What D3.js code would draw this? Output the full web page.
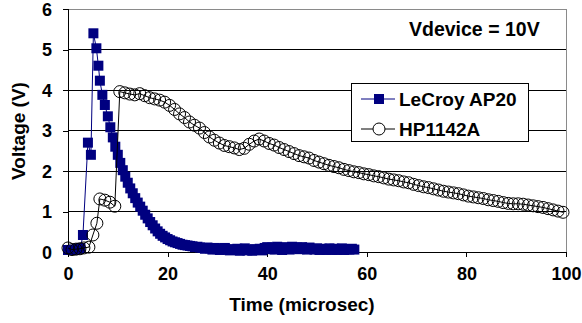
<!DOCTYPE html>
<html>
<head>
<meta charset="utf-8">
<script src="https://cdn.jsdelivr.net/npm/d3@7"></script>
<style>
  body { margin: 0; background: #fff; }
  text { font-family: "Liberation Sans", Arial, sans-serif; font-weight: bold; }
</style>
</head>
<body>
<div class="canvas"></div>
<script>
// LeCroy AP20 samples (microsec, volts)
const lecroyTime = [0, 0.5, 1, 1.5, 2, 2.5, 3, 4, 4.6, 5.1, 5.7, 6.1, 6.4, 6.9, 7.4, 8,
  8.5, 9, 9.5, 10, 10.5, 11, 11.5, 12, 12.5, 13, 13.5, 14, 14.5, 15, 15.5, 16, 16.5, 17, 17.5,
  18, 18.5, 19, 19.5, 20, 20.5, 21, 21.5, 22, 22.5, 23, 23.5, 24, 24.5, 25,
  25.5, 26, 26.5, 27, 27.5, 28, 28.5, 29, 29.5, 30, 30.5, 31, 31.5, 32, 32.5, 33, 33.5, 34, 34.5,
  35, 35.5, 36, 36.5, 37, 37.5, 38, 38.5, 39, 39.5, 40, 40.5, 41, 41.5, 42, 42.5, 43, 43.5, 44,
  44.5, 45, 45.5, 46, 46.5, 47, 47.5, 48, 48.5, 49, 49.5, 50, 50.5, 51, 51.5, 52, 52.5, 53, 53.5,
  54, 54.5, 55, 55.5, 56, 56.5, 57, 57.5];
const lecroyVolt = [0.05, 0.05, 0.05, 0.06, 0.08, 0.1, 0.42, 2.7, 2.4, 5.4, 5.03, 4.6, 4.23, 3.88, 3.63, 3.35,
  3.08, 2.83, 2.6, 2.4, 2.2, 2.02, 1.86, 1.71, 1.57, 1.45, 1.33, 1.22, 1.12, 1.02, 0.92, 0.83, 0.74, 0.66, 0.58,
  0.51, 0.45, 0.4, 0.36, 0.32, 0.29, 0.26, 0.24, 0.22, 0.2, 0.18, 0.17, 0.16, 0.15, 0.14,
  0.12, 0.13, 0.11, 0.1, 0.08, 0.11, 0.09, 0.06, 0.1, 0.07, 0.05, 0.08, 0.1, 0.06, 0.04, 0.07, 0.05, 0.08, 0.03,
  0.06, 0.09, 0.04, 0.06, 0.03, 0.07, 0.05, 0.08, 0.04, 0.1, 0.12, 0.07, 0.11, 0.06, 0.13, 0.08, 0.05, 0.12, 0.09,
  0.06, 0.13, 0.08, 0.11, 0.07, 0.12, 0.09, 0.06, 0.11, 0.08, 0.06, 0.09, 0.05, 0.08, 0.07, 0.05, 0.09, 0.06, 0.08,
  0.05, 0.07, 0.09, 0.05, 0.07, 0.06, 0.08, 0.06];

// HP1142A samples (microsec, volts)
const hpTime = [0, 0.8, 1.6, 2.4, 3.2, 4.2, 5, 5.8, 6.4, 7.4, 8.4, 9.4, 10.4,
  11.4, 12.4, 13.4, 14.4, 15.4, 16.4, 17.4, 18.4, 19.4, 20.4, 21.4, 22.4, 23.4, 24.4, 25.4, 26.4,
  27.4, 28.4, 29.4, 30.4, 31.4, 32.4, 33.4, 34.4, 35.4, 36.4, 37.4, 38.4, 39.4, 40.4, 41.4, 42.4,
  43.4, 44.4, 45.4, 46.4, 47.4, 48.4, 49.4, 50.4, 51.4, 52.4, 53.4, 54.4, 55.4, 56.4, 57.4, 58.4,
  59.4, 60.4, 61.4, 62.4, 63.4, 64.4, 65.4, 66.4, 67.4, 68.4, 69.4, 70.4, 71.4, 72.4, 73.4, 74.4,
  75.4, 76.4, 77.4, 78.4, 79.4, 80.4, 81.4, 82.4, 83.4, 84.4, 85.4, 86.4, 87.4, 88.4, 89.4, 90.4,
  91.4, 92.4, 93.4, 94.4, 95.4, 96.4, 97.4, 98.4, 99.4];
const hpVolt = [0.1, 0.06, 0.07, 0.08, 0.1, 0.12, 0.42, 0.71, 1.31, 1.28, 1.23, 1.13, 3.96,
  3.93, 3.9, 3.88, 3.91, 3.86, 3.81, 3.78, 3.75, 3.7, 3.62, 3.52, 3.41, 3.32, 3.21, 3.13, 3.06,
  2.95, 2.84, 2.76, 2.69, 2.63, 2.6, 2.57, 2.53, 2.56, 2.66, 2.74, 2.79, 2.74, 2.68, 2.64, 2.58,
  2.53, 2.48, 2.43, 2.38, 2.35, 2.32, 2.26, 2.22, 2.18, 2.14, 2.11, 2.08, 2.04, 2.01, 1.98, 1.96,
  1.93, 1.91, 1.88, 1.86, 1.83, 1.8, 1.78, 1.76, 1.73, 1.71, 1.67, 1.64, 1.61, 1.59, 1.56, 1.53,
  1.5, 1.48, 1.46, 1.44, 1.41, 1.38, 1.36, 1.34, 1.32, 1.29, 1.27, 1.25, 1.22, 1.2, 1.19, 1.19,
  1.18, 1.16, 1.14, 1.12, 1.1, 1.07, 1.04, 1.01, 0.98];

const xTicks = [0, 20, 40, 60, 80, 100];
const yTicks = [0, 1, 2, 3, 4, 5, 6];
const seriesNames = ['LeCroy AP20', 'HP1142A'];

var margin = {top: 9, right: 16, bottom: 71, left: 68},
  width = 582 - margin.left - margin.right,
  height = 323 - margin.top - margin.bottom;

var svg = d3.select('.canvas')
  .append('svg')
  .attr('width', 582)
  .attr('height', 323);

const graph = svg.append('g')
  .attr('transform', `translate(${margin.left},${margin.top})`);

// scales
const x = d3.scaleLinear().domain([0, 100]).range([0, width]);
const y = d3.scaleLinear().domain([0, 6]).range([height, 0]);

// gridlines
graph.append('g')
  .selectAll('line')
  .data(yTicks.filter(d => d > 0 && d < 6))
  .enter().append('line')
    .attr('x1', 0).attr('x2', width)
    .attr('y1', d => y(d)).attr('y2', d => y(d))
    .attr('stroke', '#000')
    .attr('stroke-width', 1)
    .attr('shape-rendering', 'crispEdges');

// top and right border of plot area
graph.append('path')
  .attr('d', `M0,${y(6)}H${width}V${height}`)
  .attr('fill', 'none')
  .attr('stroke', '#8a8a8a')
  .attr('shape-rendering', 'crispEdges');

// axes
const xAxis = d3.axisBottom(x).tickValues(xTicks).tickSize(5).tickPadding(10).tickFormat(d => d);
const yAxis = d3.axisLeft(y).tickValues(yTicks).tickSize(5).tickPadding(11).tickFormat(d => d);

const xAxisGroup = graph.append('g')
  .attr('transform', `translate(0,${height})`)
  .call(xAxis);
const yAxisGroup = graph.append('g').call(yAxis);

[xAxisGroup, yAxisGroup].forEach(g => {
  g.select('.domain').attr('stroke', '#000').attr('shape-rendering', 'crispEdges');
  g.selectAll('.tick line').attr('stroke', '#000').attr('shape-rendering', 'crispEdges');
  g.selectAll('text')
    .attr('fill', '#000')
    .style('font-size', '18px')
    .style('font-family', '"Liberation Sans", Arial, sans-serif')
    .style('font-weight', 'bold');
});
yAxisGroup.selectAll('text').attr('dy', '0.36em');

// axis titles
svg.append('text')
  .attr('x', 302)
  .attr('y', 311)
  .attr('text-anchor', 'middle')
  .style('font-size', '19px')
  .text('Time (microsec)');

svg.append('text')
  .attr('transform', `translate(25,131) rotate(-90)`)
  .attr('text-anchor', 'middle')
  .style('font-size', '19px')
  .text('Voltage (V)');

// annotation
svg.append('text')
  .attr('x', 409)
  .attr('y', 36)
  .style('font-size', '19.5px')
  .text('Vdevice = 10V');

// d3 line path generator
const lecroy = lecroyTime.map((t, i) => ({t: t, v: lecroyVolt[i]}));
const hp = hpTime.map((t, i) => ({t: t, v: hpVolt[i]}));

const line = d3.line()
  .x(d => x(d.t))
  .y(d => y(d.v));

// LeCroy series
graph.append('path')
  .datum(lecroy)
  .attr('fill', 'none')
  .attr('stroke', '#000080')
  .attr('stroke-width', 1)
  .attr('d', line);

const sq = 10;
graph.append('g')
  .selectAll('rect')
  .data(lecroy)
  .enter().append('rect')
    .attr('x', d => x(d.t) - sq / 2)
    .attr('y', d => y(d.v) - sq / 2)
    .attr('width', sq)
    .attr('height', sq)
    .attr('fill', '#000080');

// HP series
graph.append('path')
  .datum(hp)
  .attr('fill', 'none')
  .attr('stroke', '#000')
  .attr('stroke-width', 1)
  .attr('d', line);

graph.append('g')
  .selectAll('circle')
  .data(hp)
  .enter().append('circle')
    .attr('cx', d => x(d.t))
    .attr('cy', d => y(d.v))
    .attr('r', 6)
    .attr('fill', 'none')
    .attr('stroke', '#000')
    .attr('stroke-width', 1);

// legend
const legend = svg.append('g').attr('transform', 'translate(351,83)');
legend.append('rect')
  .attr('x', 0.5).attr('y', 0.5)
  .attr('width', 177).attr('height', 58)
  .attr('fill', '#fff')
  .attr('stroke', '#000');

const entries = legend.selectAll('.entry')
  .data(seriesNames)
  .enter().append('g')
    .attr('transform', (d, i) => `translate(0,${16 + i * 30})`);

entries.append('line')
  .attr('x1', 10).attr('x2', 44)
  .attr('y1', 0).attr('y2', 0)
  .attr('stroke', (d, i) => i === 0 ? '#000080' : '#000');

entries.filter((d, i) => i === 0).append('rect')
  .attr('x', 28 - sq / 2).attr('y', -sq / 2)
  .attr('width', sq).attr('height', sq)
  .attr('fill', '#000080');

entries.filter((d, i) => i === 1).append('circle')
  .attr('cx', 28).attr('cy', 0).attr('r', 6)
  .attr('fill', '#fff')
  .attr('stroke', '#000');

entries.append('text')
  .attr('x', 48)
  .attr('y', 6.5)
  .style('font-size', '19px')
  .text(d => d);
</script>
</body>
</html>
